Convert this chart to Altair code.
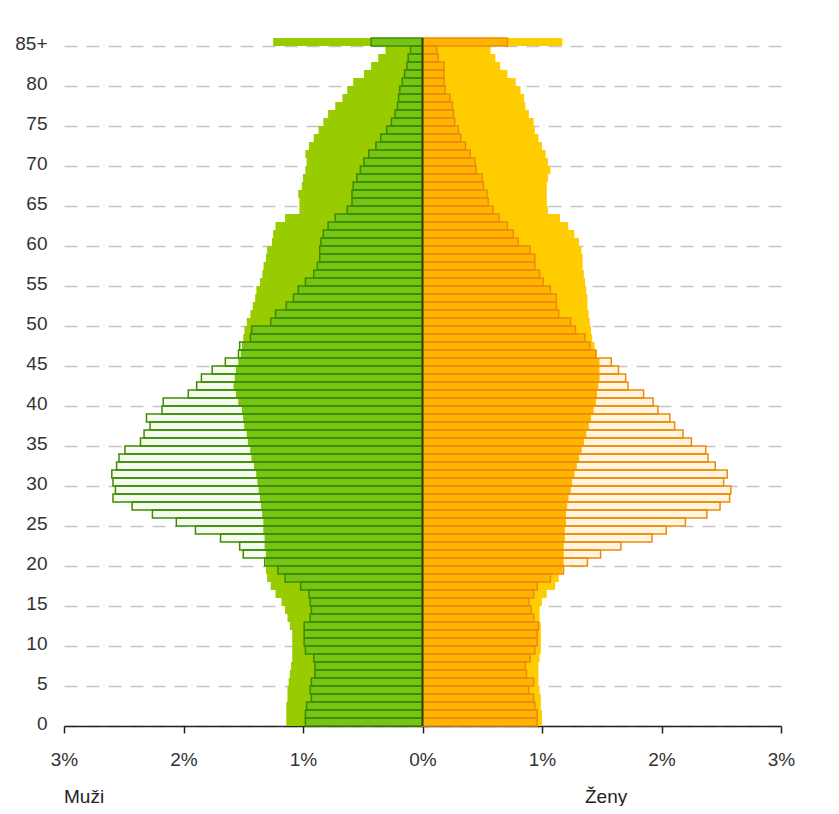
import altair as alt
import pandas as pd

ages = list(range(0, 86))
age_ticks = list(range(0, 86, 5))

# outlined series (older year), % of population, ages 0..85+
male_a = [0.98, 0.98, 0.97, 0.93, 0.94, 0.93, 0.90, 0.90, 0.91, 0.98,
          0.99, 0.99, 0.99, 0.94, 0.93, 0.94, 0.95, 1.02, 1.15, 1.21,
          1.32, 1.50, 1.53, 1.69, 1.90, 2.06, 2.26, 2.43, 2.59, 2.57,
          2.59, 2.60, 2.56, 2.54, 2.49, 2.36, 2.33, 2.28, 2.31, 2.18,
          2.17, 1.96, 1.89, 1.85, 1.76, 1.65, 1.54, 1.53, 1.44, 1.43,
          1.27, 1.23, 1.14, 1.08, 1.04, 0.98, 0.91, 0.88, 0.86, 0.86,
          0.85, 0.83, 0.79, 0.73, 0.63, 0.59, 0.59, 0.58, 0.55, 0.52,
          0.49, 0.45, 0.39, 0.35, 0.30, 0.26, 0.23, 0.21, 0.20, 0.19,
          0.17, 0.15, 0.13, 0.12, 0.10, 0.43]
# filled series (newer year)
male_b = [1.14, 1.14, 1.14, 1.13, 1.13, 1.12, 1.11, 1.10, 1.09, 1.09,
          1.09, 1.09, 1.11, 1.13, 1.15, 1.18, 1.23, 1.27, 1.30, 1.31,
          1.31, 1.31, 1.32, 1.32, 1.33, 1.33, 1.34, 1.35, 1.36, 1.37,
          1.38, 1.39, 1.41, 1.43, 1.44, 1.46, 1.47, 1.49, 1.50, 1.51,
          1.54, 1.56, 1.58, 1.57, 1.56, 1.54, 1.52, 1.51, 1.50, 1.49,
          1.47, 1.44, 1.42, 1.40, 1.39, 1.36, 1.34, 1.33, 1.31, 1.30,
          1.26, 1.25, 1.23, 1.15, 1.03, 1.03, 1.04, 1.01, 1.00, 0.98,
          0.97, 0.98, 0.95, 0.91, 0.87, 0.83, 0.79, 0.73, 0.67, 0.63,
          0.58, 0.49, 0.43, 0.37, 0.31, 1.25]
female_a = [0.96, 0.96, 0.94, 0.93, 0.89, 0.93, 0.87, 0.86, 0.90, 0.94,
            0.96, 0.96, 0.97, 0.93, 0.91, 0.89, 0.93, 0.96, 1.07, 1.18,
            1.38, 1.49, 1.66, 1.92, 2.04, 2.20, 2.38, 2.49, 2.57, 2.58,
            2.52, 2.55, 2.45, 2.39, 2.37, 2.25, 2.18, 2.11, 2.07, 1.97,
            1.93, 1.85, 1.72, 1.70, 1.64, 1.58, 1.45, 1.40, 1.36, 1.28,
            1.24, 1.14, 1.12, 1.12, 1.07, 1.01, 0.98, 0.94, 0.94, 0.90,
            0.80, 0.76, 0.71, 0.64, 0.59, 0.55, 0.54, 0.51, 0.50, 0.45,
            0.44, 0.40, 0.36, 0.32, 0.30, 0.27, 0.26, 0.25, 0.23, 0.19,
            0.18, 0.18, 0.18, 0.13, 0.12, 0.71]
female_b = [1.00, 1.00, 0.99, 0.99, 0.98, 0.97, 0.97, 0.97, 0.98, 0.99,
            0.99, 0.99, 0.99, 0.98, 0.98, 1.00, 1.04, 1.11, 1.14, 1.17,
            1.18, 1.18, 1.18, 1.19, 1.19, 1.20, 1.20, 1.21, 1.22, 1.24,
            1.25, 1.27, 1.29, 1.31, 1.33, 1.35, 1.37, 1.39, 1.41, 1.43,
            1.45, 1.46, 1.47, 1.48, 1.48, 1.48, 1.46, 1.44, 1.42, 1.41,
            1.40, 1.39, 1.38, 1.38, 1.37, 1.36, 1.35, 1.34, 1.34, 1.33,
            1.31, 1.27, 1.22, 1.15, 1.05, 1.04, 1.04, 1.04, 1.05, 1.07,
            1.05, 1.03, 1.00, 0.97, 0.94, 0.93, 0.89, 0.86, 0.85, 0.82,
            0.78, 0.71, 0.65, 0.61, 0.57, 1.17]

side_labels = ["Muži", "Ženy"]

df = pd.DataFrame({
    "age": ages,
    "age_top": [a + 1 for a in ages],
    "zero": [0.0] * len(ages),
    "mA": [-v for v in male_a],
    "mB": [-v for v in male_b],
    "mMin": [-min(a, b) for a, b in zip(male_a, male_b)],
    "fA": female_a,
    "fB": female_b,
    "fMin": [min(a, b) for a, b in zip(female_a, female_b)],
})

FONT = "Liberation Sans"
FS = 19

xscale = alt.Scale(domain=[-3, 3], nice=False, zero=False)
yscale = alt.Scale(domain=[0, 86], nice=False, zero=False)

xaxis = alt.Axis(values=[-3, -2, -1, 0, 1, 2, 3], labelExpr="abs(datum.value) + '%'",
                 title="", grid=False, domainColor="#222222", domainWidth=1.5,
                 tickColor="#222222", tickWidth=1.5, tickSize=7, labelPadding=17,
                 labelFlush=False, labelOverlap=False,
                 labelFont=FONT, labelFontSize=FS, labelColor="#333333")
yaxis = alt.Axis(values=age_ticks, labelExpr="datum.value == 85 ? '85+' : datum.value",
                 title="", grid=True, gridColor="#c4c4c4", gridWidth=1.5, gridDash=[13, 9],
                 domain=False, ticks=False, tickSize=0, labelPadding=17, labelOffset=-3,
                 labelFlush=False, labelOverlap=False,
                 labelFont=FONT, labelFontSize=FS, labelColor="#333333", labelBaseline="middle")

base = alt.Chart(df).encode(
    x=alt.X("zero:Q", scale=xscale, axis=xaxis),
    y=alt.Y("age:Q", scale=yscale, axis=yaxis),
    y2="age_top:Q",
)

m0 = base.mark_rect(fill="#f6fbf1", strokeWidth=0).encode(x2="mA:Q")
m1 = base.mark_rect(fill="#99cc00", strokeWidth=0).encode(x2="mB:Q")
m2 = base.mark_rect(fill="#77c414", strokeWidth=0).encode(x2="mMin:Q")
m3 = base.mark_rect(fillOpacity=0, stroke="#3d8c00", strokeWidth=1.5).encode(x2="mA:Q")

f0 = base.mark_rect(fill="#fff4dc", strokeWidth=0).encode(x2="fA:Q")
f1 = base.mark_rect(fill="#ffcc00", strokeWidth=0).encode(x2="fB:Q")
f2 = base.mark_rect(fill="#ffb400", strokeWidth=0).encode(x2="fMin:Q")
f3 = base.mark_rect(fillOpacity=0, stroke="#ec8a10", strokeWidth=1.5).encode(x2="fA:Q")

center = base.mark_rule(color="#1f4a00", strokeWidth=2)

lab_df = pd.DataFrame({"t": side_labels})
muzi = alt.Chart(lab_df).transform_filter(alt.datum.t == side_labels[0]).mark_text(
    align="left", baseline="alphabetic", font=FONT, fontSize=FS, color="#222222"
).encode(x=alt.value(0), y=alt.value(765), text="t:N")
zeny = alt.Chart(lab_df).transform_filter(alt.datum.t == side_labels[1]).mark_text(
    align="left", baseline="alphabetic", font=FONT, fontSize=FS, color="#222222"
).encode(x=alt.value(521), y=alt.value(765), text="t:N")

chart = alt.layer(m0, m1, m2, m3, f0, f1, f2, f3, center, muzi, zeny).properties(
    width=717, height=688,
    autosize=alt.AutoSizeParams(type="none"),
    padding={"left": 56, "top": 30, "right": 40, "bottom": 80},
    background="white",
).configure_view(stroke=None)

chart.save("out.html", embed_options={"renderer": "svg", "actions": False})
